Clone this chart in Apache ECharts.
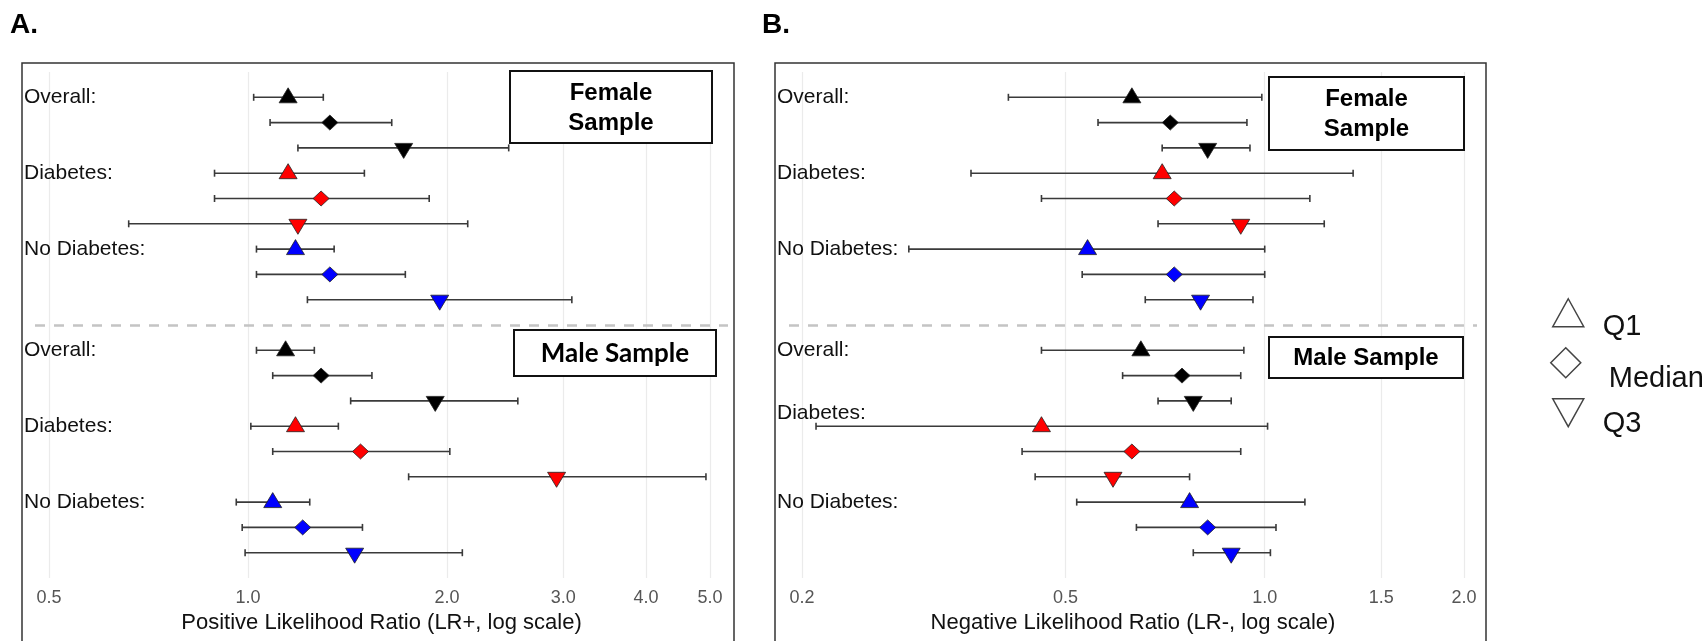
<!DOCTYPE html>
<html><head><meta charset="utf-8">
<script src="https://cdn.jsdelivr.net/npm/echarts@6/dist/echarts.min.js"></script>
<style>html,body{margin:0;padding:0;background:#fff}#c{width:1707px;height:641px}</style>
</head><body><div id="c"></div>
<script>
// ---- data ----
const groupLabels = ['Overall:', 'Diabetes:', 'No Diabetes:'];
const statNames = ['Q1', 'Median', 'Q3'];
const groupColors = ['#000000', '#ff0000', '#0000ff'];
// row order: Overall Q1/Median/Q3, Diabetes Q1/Median/Q3, No Diabetes Q1/Median/Q3
const lrPosFemaleEst = [1.15, 1.33, 1.72, 1.15, 1.29, 1.19, 1.18, 1.33, 1.95];
const lrPosFemaleLo  = [1.02, 1.08, 1.19, 0.89, 0.89, 0.66, 1.03, 1.03, 1.23];
const lrPosFemaleHi  = [1.30, 1.65, 2.48, 1.50, 1.88, 2.15, 1.35, 1.73, 3.09];
const lrPosMaleEst   = [1.14, 1.29, 1.92, 1.18, 1.48, 2.93, 1.09, 1.21, 1.45];
const lrPosMaleLo    = [1.03, 1.09, 1.43, 1.01, 1.09, 1.75, 0.96, 0.98, 0.99];
const lrPosMaleHi    = [1.26, 1.54, 2.56, 1.37, 2.02, 4.93, 1.24, 1.49, 2.11];
const lrNegFemaleEst = [0.63, 0.72, 0.82, 0.70, 0.73, 0.92, 0.54, 0.73, 0.80];
const lrNegFemaleLo  = [0.41, 0.56, 0.70, 0.36, 0.46, 0.69, 0.29, 0.53, 0.66];
const lrNegFemaleHi  = [0.99, 0.94, 0.95, 1.36, 1.17, 1.23, 1.00, 1.00, 0.96];
const lrNegMaleEst   = [0.65, 0.75, 0.78, 0.46, 0.63, 0.59, 0.77, 0.82, 0.89];
const lrNegMaleLo    = [0.46, 0.61, 0.69, 0.21, 0.43, 0.45, 0.52, 0.64, 0.78];
const lrNegMaleHi    = [0.93, 0.92, 0.89, 1.01, 0.92, 0.77, 1.15, 1.04, 1.02];
const lrPosTicks = [0.5, 1.0, 2.0, 3.0, 4.0, 5.0];
const lrNegTicks = [0.2, 0.5, 1.0, 1.5, 2.0];
const axisTitles = ['Positive Likelihood Ratio (LR+, log scale)', 'Negative Likelihood Ratio (LR-, log scale)'];
const panelTags = ['A.', 'B.'];
const sampleNames = ['Female\nSample', 'Male Sample'];

// ---- helpers ----
const FONT = '"Liberation Sans", Arial, sans-serif';
const downTri = 'path://M0,0L20,0L10,18Z';
const symbols = ['triangle', 'diamond', downTri];
const symOffsets = [[0, -2], [0, 0], [0, 3]];

function rowOf(sexIdx, k) { return 1 + sexIdx * 10 + k; }

function buildPanel(pi, sets) {
  const series = [];
  const bars = [];
  sets.forEach((s, si) => {
    for (let k = 0; k < 9; k++) bars.push([s.lo[k], s.hi[k], rowOf(si, k)]);
  });
  series.push({
    type: 'custom', xAxisIndex: pi, yAxisIndex: pi, clip: false, silent: true, z: 2,
    data: bars, encode: { x: [0, 1], y: 2 },
    renderItem(params, api) {
      const y = api.value(2);
      const p1 = api.coord([api.value(0), y]);
      const p2 = api.coord([api.value(1), y]);
      const h = 3.5;
      const st = { stroke: '#3a3a3a', lineWidth: 1.6 };
      return { type: 'group', children: [
        { type: 'line', shape: { x1: p1[0], y1: p1[1], x2: p2[0], y2: p2[1] }, style: st },
        { type: 'line', shape: { x1: p1[0], y1: p1[1] - h, x2: p1[0], y2: p1[1] + h }, style: st },
        { type: 'line', shape: { x1: p2[0], y1: p2[1] - h, x2: p2[0], y2: p2[1] + h }, style: st }
      ]};
    },
    markLine: {
      silent: true, symbol: 'none', animation: false,
      label: { show: false },
      lineStyle: { type: [10, 9], color: '#c4c4c4', width: 2.5 },
      data: [{ yAxis: 10 }]
    }
  });
  for (let st = 0; st < 3; st++) {
    const data = [];
    sets.forEach((s, si) => {
      for (let g = 0; g < 3; g++) {
        const k = g * 3 + st;
        data.push({ value: [s.est[k], rowOf(si, k)], itemStyle: { color: groupColors[g] } });
      }
    });
    series.push({
      type: 'scatter', name: statNames[st], xAxisIndex: pi, yAxisIndex: pi, z: 5,
      symbol: symbols[st], symbolSize: st === 1 ? [16, 15] : [18, 15], symbolOffset: symOffsets[st],
      itemStyle: { borderColor: '#222', borderWidth: 0.8, opacity: 1 },
      data
    });
  }
  return series;
}

const series = [
  ...buildPanel(0, [
    { est: lrPosFemaleEst, lo: lrPosFemaleLo, hi: lrPosFemaleHi },
    { est: lrPosMaleEst, lo: lrPosMaleLo, hi: lrPosMaleHi }]),
  ...buildPanel(1, [
    { est: lrNegFemaleEst, lo: lrNegFemaleLo, hi: lrNegFemaleHi },
    { est: lrNegMaleEst, lo: lrNegMaleLo, hi: lrNegMaleHi }])
];

function xAxisFor(pi, ticks, min, max) {
  return {
    type: 'log', logBase: 10, gridIndex: pi, min, max,
    name: axisTitles[pi], nameLocation: 'middle', nameGap: 34,
    nameTextStyle: { fontFamily: FONT, fontSize: 22, color: '#111' },
    axisLine: { show: false }, axisTick: { show: false, customValues: ticks },
    axisLabel: { customValues: ticks, formatter: v => Number(v).toFixed(1), fontFamily: FONT, fontSize: 18, color: '#555', margin: 11 },
    splitLine: { show: true, lineStyle: { color: '#ebebeb', width: 1.2 } },
    minorTick: { show: false }, minorSplitLine: { show: false }
  };
}

const labelRowsA = [1, 4, 7, 11, 14, 17];
const labelRowsB = [1, 4, 7, 11, 13.5, 17];
function yAxisFor(pi, rows, margin) {
  return {
    type: 'value', gridIndex: pi, min: 0, max: 20, inverse: true,
    axisLine: { show: false }, axisTick: { show: false }, splitLine: { show: false },
    axisLabel: {
      customValues: rows, align: 'left', margin,
      formatter: v => { const i = rows.findIndex(r => Math.abs(r - v) < 1e-6); return i < 0 ? '' : groupLabels[i % 3]; },
      fontFamily: FONT, fontSize: 21, color: '#111'
    }
  };
}

function box(x1, y1, x2, y2, text, fontSize, lh, family) {
  return {
    type: 'group', children: [
      { type: 'rect', shape: { x: x1, y: y1, width: x2 - x1, height: y2 - y1 }, style: { fill: '#fff', stroke: '#111', lineWidth: 2 }, z: 10 },
      { type: 'text', x: (x1 + x2) / 2, y: (y1 + y2) / 2 + 1, z: 11,
        style: { text, fill: '#000', fontFamily: family, fontSize, fontWeight: 'bold', align: 'center', verticalAlign: 'middle', lineHeight: lh } }
    ]
  };
}

function legendFor(name, icon, left, top, w, h, pad) {
  return {
    show: true, data: [name], icon, left, top, padding: 0, selectedMode: false,
    itemWidth: w, itemHeight: h,
    itemStyle: { color: 'rgba(255,255,255,0)', borderColor: '#444', borderWidth: 1.5 },
    formatter: '{t|{name}}',
    textStyle: { rich: { t: { fontFamily: FONT, fontSize: 29, color: '#111', padding: pad } } }
  };
}

const option = {
  backgroundColor: '#fff',
  animation: false,
  title: [
    { text: panelTags[0], left: 10, top: 11, padding: 0, textStyle: { fontFamily: FONT, fontSize: 28, fontWeight: 'bold', color: '#000' } },
    { text: panelTags[1], left: 762, top: 11, padding: 0, textStyle: { fontFamily: FONT, fontSize: 28, fontWeight: 'bold', color: '#000' } }
  ],
  grid: [
    { left: 35, top: 72, width: 693, height: 506 },
    { left: 789, top: 72, width: 688, height: 506 }
  ],
  xAxis: [
    xAxisFor(0, lrPosTicks, 0.5 * Math.pow(10, -14 / 661), 5 * Math.pow(10, 18 / 661)),
    xAxisFor(1, lrNegTicks, 0.2 * Math.pow(10, -13 / 662), 2 * Math.pow(10, 13 / 662))
  ],
  yAxis: [yAxisFor(0, labelRowsA, 11), yAxisFor(1, labelRowsB, 12)],
  legend: [
    legendFor('Q1', 'triangle', 1552, 298, 31, 28, [28, 0, 0, 14]),
    legendFor('Median', 'diamond', 1550, 347, 30, 30, [32, 0, 0, 23]),
    legendFor('Q3', downTri, 1552, 398, 31, 28, [22, 0, 0, 14])
  ],
  graphic: [
    { type: 'rect', shape: { x: 22, y: 63, width: 712, height: 600 }, style: { fill: 'none', stroke: '#333', lineWidth: 1.5 }, z: 1, silent: true },
    { type: 'rect', shape: { x: 775, y: 63, width: 711, height: 600 }, style: { fill: 'none', stroke: '#333', lineWidth: 1.5 }, z: 1, silent: true },
    box(510, 71, 712, 143, sampleNames[0], 24, 30, FONT),
    box(514, 330, 716, 376, sampleNames[1], 26, 30, 'Lato, ' + FONT),
    box(1269, 77, 1464, 150, sampleNames[0], 24, 30, FONT),
    box(1269, 337, 1463, 378, sampleNames[1], 24, 30, FONT)
  ],
  series
};

const chart = echarts.init(document.getElementById('c'), null, { renderer: 'canvas' });
chart.setOption(option);
</script>
</body></html>
